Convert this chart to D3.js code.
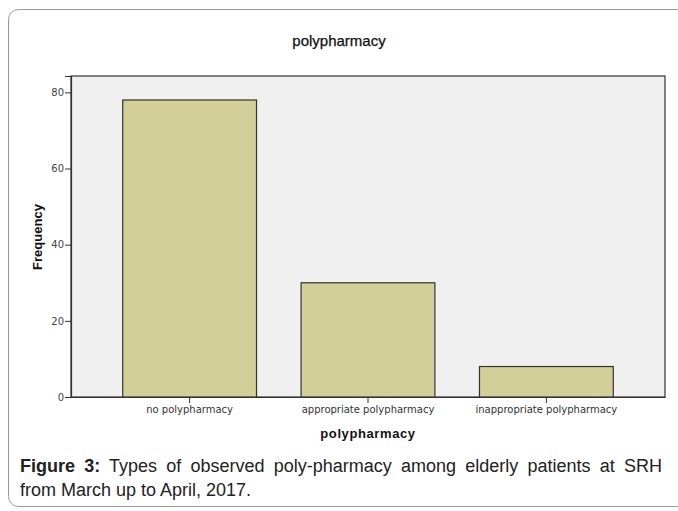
<!doctype html>
<html lang="en">
<head>
<meta charset="UTF-8">
<title>polypharmacy</title>
<script src="https://d3js.org/d3.v7.min.js"></script>
<style>
  body { margin: 0; background: #fff; }
</style>
</head>
<body>
<div id="chart"></div>
<script>
// data
const categories = ["no polypharmacy", "appropriate polypharmacy", "inappropriate polypharmacy"];
const frequency = [78, 30, 8];
const yTicks = [0, 20, 40, 60, 80];

const W = 678, H = 511;
const plot = { left: 71, top: 76, right: 665, bottom: 397 };
const font = "Liberation Sans, Arial, sans-serif";
const tickFont = "DejaVu Sans, Verdana, sans-serif";

const svg = d3.select("#chart").append("svg")
  .attr("width", W)
  .attr("height", H);

// outer frame with rounded corner
svg.append("rect")
  .attr("x", 8.5).attr("y", 9.5)
  .attr("width", 690).attr("height", 497)
  .attr("rx", 10)
  .attr("fill", "none")
  .attr("stroke", "#9a9a9a")
  .attr("stroke-width", 1);

// title
svg.append("text")
  .attr("x", 339).attr("y", 46)
  .attr("text-anchor", "middle")
  .attr("font-family", font)
  .attr("font-size", "15px")
  .attr("fill", "#111")
  .attr("stroke", "#111")
  .attr("stroke-width", 0.25)
  .text("polypharmacy");

const x = d3.scaleBand()
  .domain(categories)
  .range([plot.left, plot.right])
  .paddingInner(0.25)
  .paddingOuter(0.29);

const y = d3.scaleLinear()
  .domain([0, 84.3])
  .range([plot.bottom, plot.top]);

// plot background
svg.append("rect")
  .attr("x", plot.left).attr("y", plot.top)
  .attr("width", plot.right - plot.left)
  .attr("height", plot.bottom - plot.top)
  .attr("fill", "#f0f0f0")
  .attr("stroke", "#333")
  .attr("stroke-width", 1.2);

// bars
svg.selectAll("rect.bar")
  .data(frequency)
  .enter()
  .append("rect")
    .attr("class", "bar")
    .attr("x", (d, i) => x(categories[i]))
    .attr("y", d => y(d))
    .attr("width", x.bandwidth())
    .attr("height", d => y(0) - y(d))
    .attr("fill", "#d3cf98")
    .attr("stroke", "#333")
    .attr("stroke-width", 1.2);

// y axis
const yAxis = svg.append("g")
  .attr("transform", "translate(" + plot.left + ",0)")
  .call(d3.axisLeft(y).tickValues(yTicks).tickSize(6).tickPadding(1));
yAxis.select(".domain").attr("stroke", "#333").attr("stroke-width", 1.2);
yAxis.selectAll(".tick line").attr("stroke", "#333");
yAxis.selectAll(".tick text")
  .attr("font-family", tickFont)
  .attr("font-size", "10px")
  .attr("fill", "#444");

// x axis
const xAxis = svg.append("g")
  .attr("transform", "translate(0," + plot.bottom + ")")
  .call(d3.axisBottom(x).tickSize(6).tickPadding(3).tickSizeOuter(0));
xAxis.select(".domain").attr("stroke", "#333").attr("stroke-width", 1.2);
xAxis.selectAll(".tick line").attr("stroke", "#333");
xAxis.selectAll(".tick text")
  .attr("font-family", tickFont)
  .attr("font-size", "10px")
  .attr("fill", "#333");

// axis titles
svg.append("text")
  .attr("x", 368).attr("y", 438)
  .attr("text-anchor", "middle")
  .attr("font-family", font)
  .attr("font-size", "13px")
  .attr("font-weight", "bold")
  .attr("letter-spacing", "0.6px")
  .attr("fill", "#111")
  .text("polypharmacy");

svg.append("text")
  .attr("transform", "translate(42,237) rotate(-90)")
  .attr("text-anchor", "middle")
  .attr("font-family", font)
  .attr("font-size", "13px")
  .attr("font-weight", "bold")
  .attr("fill", "#111")
  .text("Frequency");

// caption, first line justified to the frame width
const cap1 = svg.append("text")
  .attr("x", 20).attr("y", 472)
  .attr("font-family", font)
  .attr("font-size", "18px")
  .attr("fill", "#222");
cap1.append("tspan").attr("font-weight", "bold").text("Figure 3:");
cap1.append("tspan").text(" Types of observed poly-pharmacy among elderly patients at SRH");
const natural = cap1.node().getComputedTextLength();
const gaps = 10;
if (natural < 642) {
  cap1.attr("word-spacing", ((642 - natural) / gaps) + "px");
} else {
  cap1.attr("textLength", 642).attr("lengthAdjust", "spacingAndGlyphs");
}

svg.append("text")
  .attr("x", 20).attr("y", 496)
  .attr("font-family", font)
  .attr("font-size", "18px")
  .attr("fill", "#222")
  .text("from March up to April, 2017.");
</script>
</body>
</html>
